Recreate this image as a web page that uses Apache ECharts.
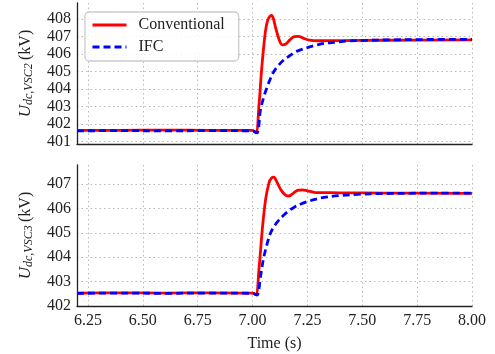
<!DOCTYPE html>
<html>
<head>
<meta charset="utf-8">
<script src="https://cdn.jsdelivr.net/npm/echarts@6/dist/echarts.min.js"></script>
<style>
html,body{margin:0;padding:0;background:#fff;}
#chart{width:495px;height:354px;}
</style>
</head>
<body>
<div id="chart"></div>
<script>
// ---- data ----
const seriesNames = ['Conventional', 'IFC'];
const xTicks = [6.25, 6.50, 6.75, 7.00, 7.25, 7.50, 7.75, 8.00];
const yTicksTop = [401, 402, 403, 404, 405, 406, 407, 408];
const yTicksBottom = [402, 403, 404, 405, 406, 407];

// VSC2 (top)
const convTopT = [6.20, 6.40, 6.60, 6.80, 7.00, 7.015, 7.03, 7.04, 7.05, 7.06, 7.07, 7.08, 7.087, 7.095, 7.105, 7.12, 7.135, 7.15, 7.17, 7.19, 7.21, 7.23, 7.26, 7.30, 7.40, 7.60, 8.00];
const convTopV = [401.65, 401.65, 401.66, 401.65, 401.65, 401.5, 403.2, 404.9, 406.3, 407.4, 407.95, 408.15, 408.2, 408.0, 407.5, 406.85, 406.52, 406.55, 406.8, 406.98, 407.0, 406.9, 406.78, 406.75, 406.76, 406.78, 406.8];
const ifcTopT = [6.20, 6.40, 6.60, 6.80, 7.00, 7.02, 7.036, 7.05, 7.067, 7.08, 7.097, 7.12, 7.143, 7.17, 7.19, 7.22, 7.25, 7.29, 7.325, 7.38, 7.43, 7.52, 7.63, 7.80, 8.00];
const ifcTopV = [401.62, 401.63, 401.62, 401.63, 401.62, 401.5, 402.8, 403.5, 404.13, 404.55, 405.0, 405.38, 405.66, 405.9, 406.08, 406.24, 406.36, 406.5, 406.6, 406.67, 406.73, 406.77, 406.8, 406.82, 406.83];

// VSC3 (bottom)
const convBotT = [6.20, 6.40, 6.60, 6.80, 7.00, 7.015, 7.03, 7.045, 7.06, 7.075, 7.087, 7.097, 7.11, 7.13, 7.15, 7.166, 7.185, 7.205, 7.227, 7.25, 7.28, 7.31, 7.40, 7.60, 8.00];
const convBotV = [402.53, 402.54, 402.53, 402.54, 402.53, 402.47, 403.6, 405.2, 406.4, 407.05, 407.25, 407.28, 407.1, 406.75, 406.55, 406.51, 406.62, 406.74, 406.76, 406.72, 406.66, 406.65, 406.64, 406.63, 406.62];
const ifcBotT = [6.20, 6.40, 6.60, 6.80, 7.00, 7.02, 7.036, 7.05, 7.067, 7.08, 7.097, 7.12, 7.143, 7.165, 7.19, 7.22, 7.25, 7.29, 7.325, 7.40, 7.48, 7.60, 7.71, 7.85, 8.00];
const ifcBotV = [402.52, 402.53, 402.52, 402.53, 402.52, 402.45, 403.2, 403.95, 404.57, 404.95, 405.25, 405.52, 405.73, 405.9, 406.05, 406.18, 406.28, 406.38, 406.45, 406.53, 406.58, 406.61, 406.62, 406.63, 406.63];

function pairs(t, v) { return t.map((x, i) => [x, v[i]]); }

const SERIF = "'Liberation Serif', 'DejaVu Serif', serif";
const RED = '#ff0000';
const BLUE = '#0000ff';

function yAxis(gridIndex, min, max, ticks, sub) {
  return {
    type: 'value', gridIndex, min, max,
    name: '{u|U}{s|dc,VSC' + sub + '} {k|(kV)}',
    nameLocation: 'middle', nameGap: 42, nameRotate: 90,
    nameTextStyle: {
      rich: {
        u: { fontFamily: SERIF, fontStyle: 'italic', fontSize: 17, color: '#222' },
        s: { fontFamily: SERIF, fontStyle: 'italic', fontSize: 12, color: '#222', padding: [7, 0, 0, 0] },
        k: { fontFamily: SERIF, fontSize: 16, color: '#222' }
      }
    },
    axisLine: { show: true, lineStyle: { color: '#222', width: 1.3 } },
    axisTick: { show: false, customValues: ticks },
    axisLabel: { customValues: ticks, fontFamily: SERIF, fontSize: 16, color: '#222', margin: 6 },
    splitLine: { show: true, lineStyle: { color: '#b8b8b8', type: [1.5, 3], width: 1 } }
  };
}

function xAxis(gridIndex, showLabels) {
  return {
    type: 'value', gridIndex, min: 6.2, max: 8.0,
    name: showLabels ? 'Time (s)' : '',
    nameLocation: 'middle', nameGap: 30,
    nameTextStyle: { fontFamily: SERIF, fontSize: 16, color: '#222' },
    axisLine: { show: true, onZero: false, lineStyle: { color: '#222', width: 1.3 } },
    axisTick: { show: false, customValues: xTicks },
    axisLabel: { show: showLabels, customValues: xTicks, fontFamily: SERIF, fontSize: 16, color: '#222', margin: 7,
      formatter: v => v.toFixed(2) },
    splitLine: { show: true, lineStyle: { color: '#b8b8b8', type: [1.5, 3], width: 1 } }
  };
}

function line(name, xi, data, color, dashed, z) {
  return {
    name, type: 'line', xAxisIndex: xi, yAxisIndex: xi, data,
    showSymbol: false, symbol: 'none', smooth: 0.35, z,
    lineStyle: { color, width: 2.8, type: dashed ? [7, 4] : 'solid' },
    itemStyle: { color }
  };
}

const chart = echarts.init(document.getElementById('chart'), null, { renderer: 'canvas' });
chart.setOption({
  animation: false,
  backgroundColor: '#fff',
  grid: [
    { left: 77, top: 3, width: 395, height: 141 },
    { left: 77, top: 165, width: 395, height: 141 }
  ],
  xAxis: [xAxis(0, false), xAxis(1, true)],
  yAxis: [
    yAxis(0, 400.87, 408.9, yTicksTop, '2'),
    yAxis(1, 402, 407.78, yTicksBottom, '3')
  ],
  legend: {
    data: seriesNames,
    orient: 'vertical', left: 85, top: 12,
    backgroundColor: 'rgba(255,255,255,0.85)',
    borderColor: '#cccccc', borderWidth: 1.3, borderRadius: 4,
    padding: [5, 14, 6, 6],
    itemWidth: 34, itemHeight: 14, itemGap: 6,
    itemStyle: { opacity: 0 },
    lineStyle: { width: 3 },
    textStyle: { fontFamily: SERIF, fontSize: 16, color: '#222', lineHeight: 16, padding: [0, 0, 0, 7] }
  },
  series: [
    line(seriesNames[0], 0, pairs(convTopT, convTopV), RED, false, 2),
    line(seriesNames[1], 0, pairs(ifcTopT, ifcTopV), BLUE, true, 3),
    line(seriesNames[0], 1, pairs(convBotT, convBotV), RED, false, 2),
    line(seriesNames[1], 1, pairs(ifcBotT, ifcBotV), BLUE, true, 3)
  ]
});
</script>
</body>
</html>
